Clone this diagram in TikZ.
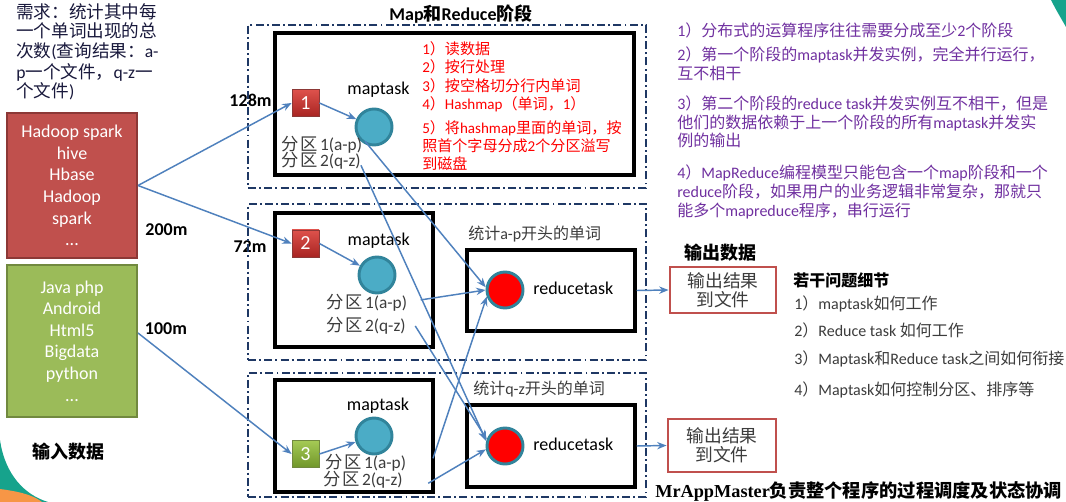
\documentclass[tikz,border=0pt]{standalone}
\usepackage{fontspec}
\setmainfont{Carlito}
\newfontfamily\cjkfam{Noto Sans CJK SC}
\newfontfamily\lserif{Liberation Serif}
\usetikzlibrary{arrows.meta}
% automatic switching between Latin and CJK fonts
\chardef\CJKcls=7
\makeatletter
\count@="3000
\loop \XeTeXcharclass\count@=\CJKcls \advance\count@ by 1 \ifnum\count@<"3040 \repeat
\count@="4E00
\loop \XeTeXcharclass\count@=\CJKcls \advance\count@ by 1 \ifnum\count@<"A000 \repeat
\count@="FF00
\loop \XeTeXcharclass\count@=\CJKcls \advance\count@ by 1 \ifnum\count@<"FFF0 \repeat
\count@="21
\loop \XeTeXcharclass\count@=0 \advance\count@ by 1 \ifnum\count@<"7F \repeat
\makeatother
\def\latinsel{\rmfamily}
\def\cjksel{\cjkfam}
\XeTeXinterchartoks 0 \CJKcls = {\cjksel}
\XeTeXinterchartoks 4095 \CJKcls = {\cjksel}
\XeTeXinterchartoks \CJKcls 0 = {\latinsel}
\XeTeXinterchartoks 4095 0 = {\latinsel}
\XeTeXinterchartokenstate=1

\newcommand\partlabel[2]{分\hspace{0.12em}区\hspace{0.12em}#1(#2)}

\definecolor{flowblue}{RGB}{79,129,189}
\definecolor{navy}{RGB}{31,56,100}
\definecolor{inredc}{RGB}{192,80,77}
\definecolor{inredb}{RGB}{140,56,54}
\definecolor{ingreenc}{RGB}{155,187,89}
\definecolor{ingreenb}{RGB}{113,137,63}
\definecolor{tealc}{RGB}{75,172,198}
\definecolor{tealb}{RGB}{49,132,155}
\definecolor{purp}{RGB}{112,48,160}
\definecolor{reqc}{RGB}{25,25,60}
\definecolor{darkgray}{RGB}{60,60,60}
\definecolor{decoteal}{RGB}{22,163,140}
\definecolor{decoorange}{RGB}{247,150,70}

\tikzset{
  txt/.style={inner sep=0pt, anchor=base west},
  ctxt/.style={inner sep=0pt, anchor=base},
  dashbox/.style={draw=navy, line width=1.4pt, dash pattern=on 6pt off 2.4pt on 1.4pt off 2.4pt, inner sep=0pt},
  taskbox/.style={draw=black, line width=2.6pt, inner sep=0pt},
  inbox/.style={line width=1.5pt, inner sep=0pt, align=center, text=white, font=\fontsize{13.5}{16.2}\selectfont},
  outbox/.style={draw=inredc, line width=2.2pt, fill=white, inner sep=0pt, align=center, text=darkgray, font=\fontsize{13.3}{14.3}\selectfont},
  sqbox/.style={minimum size=20.25pt, inner sep=0pt, text=white, font=\fontsize{15}{16}\selectfont},
  mcirc/.style={circle, minimum size=27pt, inner sep=0pt, draw=tealb, line width=2.2pt, fill=tealc},
  rcirc/.style={circle, minimum size=27pt, inner sep=0pt, draw=tealb, line width=2.2pt, fill=red},
  flow/.style={draw=flowblue, line width=1.1pt, -{Stealth[length=7pt,width=5.5pt]}},
  fbig/.style={font=\fontsize{13.5}{16}\selectfont},
  fbigb/.style={font=\bfseries\fontsize{13.5}{16}\selectfont},
  fpart/.style={font=\fontsize{13}{15}\selectfont, text=darkgray},
  fred/.style={font=\fontsize{11.3}{13}\selectfont, text=red},
  fpur/.style={font=\fontsize{12}{14}\selectfont, text=purp},
  fmid/.style={font=\fontsize{12}{14}\selectfont, text=darkgray},
}

\begin{document}
\begin{tikzpicture}[x=0.75pt,y=-0.75pt]
\useasboundingbox (0,0) rectangle (1066,502);
\fill[white] (0,0) rectangle (1066,502);
% corner decorations
\fill[decoteal] (0,440) .. controls (5,475) and (25,495) .. (48,502) -- (0,502) -- cycle;
\fill[decoorange] (0,489) .. controls (15,491) and (32,494) .. (42,502) -- (0,502) -- cycle;
\fill[decoteal] (1051,0) .. controls (1056,10) and (1062,20) .. (1066,27) -- (1066,0) -- cycle;

% requirement text
\node[txt, text=reqc, font=\fontsize{13.2}{15}\selectfont] (req1) at (16,18.3) {需求：统计其中每};
\node[txt, text=reqc, font=\fontsize{13.2}{15}\selectfont] (req2) at (16,37.8) {一个单词出现的总};
\node[txt, text=reqc, font=\fontsize{13.2}{15}\selectfont] (req3) at (16,57.3) {次数(查询结果：a-};
\node[txt, text=reqc, font=\fontsize{13.2}{15}\selectfont] (req4) at (16,78.3) {p一个文件，q-z一};
\node[txt, text=reqc, font=\fontsize{13.2}{15}\selectfont] (req5) at (16,97.3) {个文件)};

% input boxes
\node[inbox, fill=inredc, draw=inredb, minimum width=97.5pt, minimum height=108.75pt] (inred) at (72,185.5)
  {Hadoop spark\\hive\\Hbase\\Hadoop\\spark\\...};
\node[inbox, fill=ingreenc, draw=ingreenb, minimum width=97.5pt, minimum height=114pt] (ingreen) at (72,341)
  {Java php\\Android\\Html5\\Bigdata\\python\\...};
\node[ctxt, fbigb] (inlabel) at (68,458.5) {输入数据};

% sizes
\node[fbigb, inner sep=0pt] (s128) at (250.5,100) {128m};
\node[fbigb, inner sep=0pt] (s200) at (166.5,230) {200m};
\node[fbigb, inner sep=0pt] (s72) at (250,247) {72m};
\node[fbigb, inner sep=0pt] (s100) at (166,329) {100m};

% title
\node[ctxt, fbigb] (title) at (461,20.5) {Map和Reduce阶段};

% dash-dot groups
\node[dashbox, minimum width=298.5pt, minimum height=122.25pt] (dA) at (447,106.5) {};
\node[dashbox, minimum width=298.5pt, minimum height=117pt] (dB) at (447,282) {};
\node[dashbox, minimum width=298.5pt, minimum height=93pt] (dC) at (447,435) {};

% task boxes
\node[taskbox, minimum width=269.25pt, minimum height=106.5pt] (m1) at (454.5,104) {};
\node[taskbox, minimum width=118.5pt, minimum height=100.5pt] (m2) at (354,280) {};
\node[taskbox, minimum width=118.5pt, minimum height=84pt] (m3) at (354,436) {};
\node[taskbox, minimum width=126pt, minimum height=60.75pt] (rb1) at (551,290.5) {};
\node[taskbox, minimum width=126pt, minimum height=61.5pt] (rb2) at (551,446) {};

% squares
\node[sqbox, draw=inredb, line width=0.6pt, top color={rgb,255:red,222;green,82;blue,76}, bottom color={rgb,255:red,168;green,36;blue,34}] (sq1) at (305.5,103) {1};
\node[sqbox, draw=inredb, line width=0.6pt, top color={rgb,255:red,222;green,82;blue,76}, bottom color={rgb,255:red,168;green,36;blue,34}] (sq2) at (305.5,243.5) {2};
\node[sqbox, draw=ingreenb, line width=0.6pt, top color={rgb,255:red,165;green,202;blue,85}, bottom color={rgb,255:red,112;green,150;blue,42}] (sq3) at (305.5,454) {3};

% circles
\node[mcirc] (c1) at (374,127) {};
\node[mcirc] (c2) at (377,275) {};
\node[mcirc] (c3) at (374,436) {};
\node[rcirc] (r1) at (505,290) {};
\node[rcirc] (r2) at (505,446) {};

% maptask / reducetask labels
\node[ctxt, fbig] (mt1) at (378.5,94.5) {maptask};
\node[ctxt, fbig] (mt2) at (378.7,245) {maptask};
\node[ctxt, fbig] (mt3) at (378,410.7) {maptask};
\node[txt, fbig] (rt1) at (533,294.5) {reducetask};
\node[txt, fbig] (rt2) at (533,450.5) {reducetask};

% partitions
\node[txt, fpart] (p11) at (281,151) {\partlabel{1}{a-p}};
\node[txt, fpart] (p12) at (281,167) {\partlabel{2}{q-z}};
\node[txt, fpart] (p21) at (326,308.3) {\partlabel{1}{a-p}};
\node[txt, fpart] (p22) at (326,331.7) {\partlabel{2}{q-z}};
\node[txt, fpart] (p31) at (325,468) {\partlabel{1}{a-p}};
\node[txt, fpart] (p32) at (323,485) {\partlabel{2}{q-z}};

% map steps (red)
\node[txt, fred] (st1) at (422,54.4) {1）读数据};
\node[txt, fred] (st2) at (422,72.4) {2）按行处理};
\node[txt, fred] (st3) at (422,91.4) {3）按空格切分行内单词};
\node[txt, fred] (st4) at (422,109.4) {4）Hashmap（单词，1）};
\node[txt, fred] (st5) at (422,133.4) {5）将hashmap里面的单词，按};
\node[txt, fred] (st6) at (422,151.4) {照首个字母分成2个分区溢写};
\node[txt, fred] (st7) at (422,169.4) {到磁盘};

% reduce group labels
\node[txt, fmid] (gl1) at (468,239) {统计a-p开头的单词};
\node[txt, fmid] (gl2) at (473,394) {统计q-z开头的单词};

% output
\node[ctxt, fbigb] (outlabel) at (720,259.5) {输出数据};
\node[outbox, minimum width=79.5pt, minimum height=34.5pt] (o1) at (723,290) {输出结果\\到文件};
\node[outbox, minimum width=81pt, minimum height=39.75pt] (o2) at (722,445.5) {输出结果\\到文件};

% purple notes
\node[txt, fpur] (n1) at (677,37) {1）分布式的运算程序往往需要分成至少2个阶段};
\node[txt, fpur] (n2) at (677,60.5) {2）第一个阶段的maptask并发实例，完全并行运行，};
\node[txt, fpur] (n3) at (677,80) {互不相干};
\node[txt, fpur] (n4) at (677,110) {3）第二个阶段的reduce task并发实例互不相干，但是};
\node[txt, fpur] (n5) at (677,129) {他们的数据依赖于上一个阶段的所有maptask并发实};
\node[txt, fpur] (n6) at (677,147) {例的输出};
\node[txt, fpur] (n7) at (677,178.5) {4）MapReduce编程模型只能包含一个map阶段和一个};
\node[txt, fpur] (n8) at (677,197.5) {reduce阶段，如果用户的业务逻辑非常复杂，那就只};
\node[txt, fpur] (n9) at (677,216.5) {能多个mapreduce程序，串行运行};

% questions
\node[txt, font=\bfseries\fontsize{12}{14}\selectfont] (qh) at (793,286) {若干问题细节};
\node[txt, fmid] (q1) at (794,309) {1）maptask如何工作};
\node[txt, fmid] (q2) at (794,336) {2）Reduce task 如何工作};
\node[txt, fmid] (q3) at (794,364) {3）Maptask和Reduce task之间如何衔接};
\node[txt, fmid] (q4) at (794,395) {4）Maptask如何控制分区、排序等};

% MrAppMaster
\node[txt, font={\def\latinsel{\lserif}\bfseries\fontsize{13.7}{16}\selectfont}] (mram) at (655,497) {MrAppMaster负责整个程序的过程调度及状态协调};

% connectors
\draw[flow] (inred.east) -- (sq1.west);
\draw[flow] (inred.east) -- (sq2.west);
\draw[flow] ([yshift=6pt]ingreen.east) -- (sq3.west);
\draw[flow] (sq1.east) -- (c1);
\draw[flow] (sq2.east) -- (c2);
\draw[flow] (sq3.east) -- (c3);
\draw[flow] ([xshift=2pt,yshift=3pt]p11.east) -- (r1.172);
\draw[flow] ([yshift=-3pt]p12.east) -- (r2.165);
\draw[flow] ([xshift=10pt,yshift=2pt]p21.east) -- (r1.west);
\draw[flow] ([xshift=7pt]p22.east) -- (r2.160);
\draw[flow] ([xshift=20pt,yshift=3pt]p31.east) -- (r1.200);
\draw[flow] ([xshift=19pt,yshift=-3pt]p32.east) -- (r2.190);
\draw[flow] (rb1.east) -- (o1.west);
\draw[flow] (rb2.east) -- (o2.west);
\end{tikzpicture}
\end{document}
